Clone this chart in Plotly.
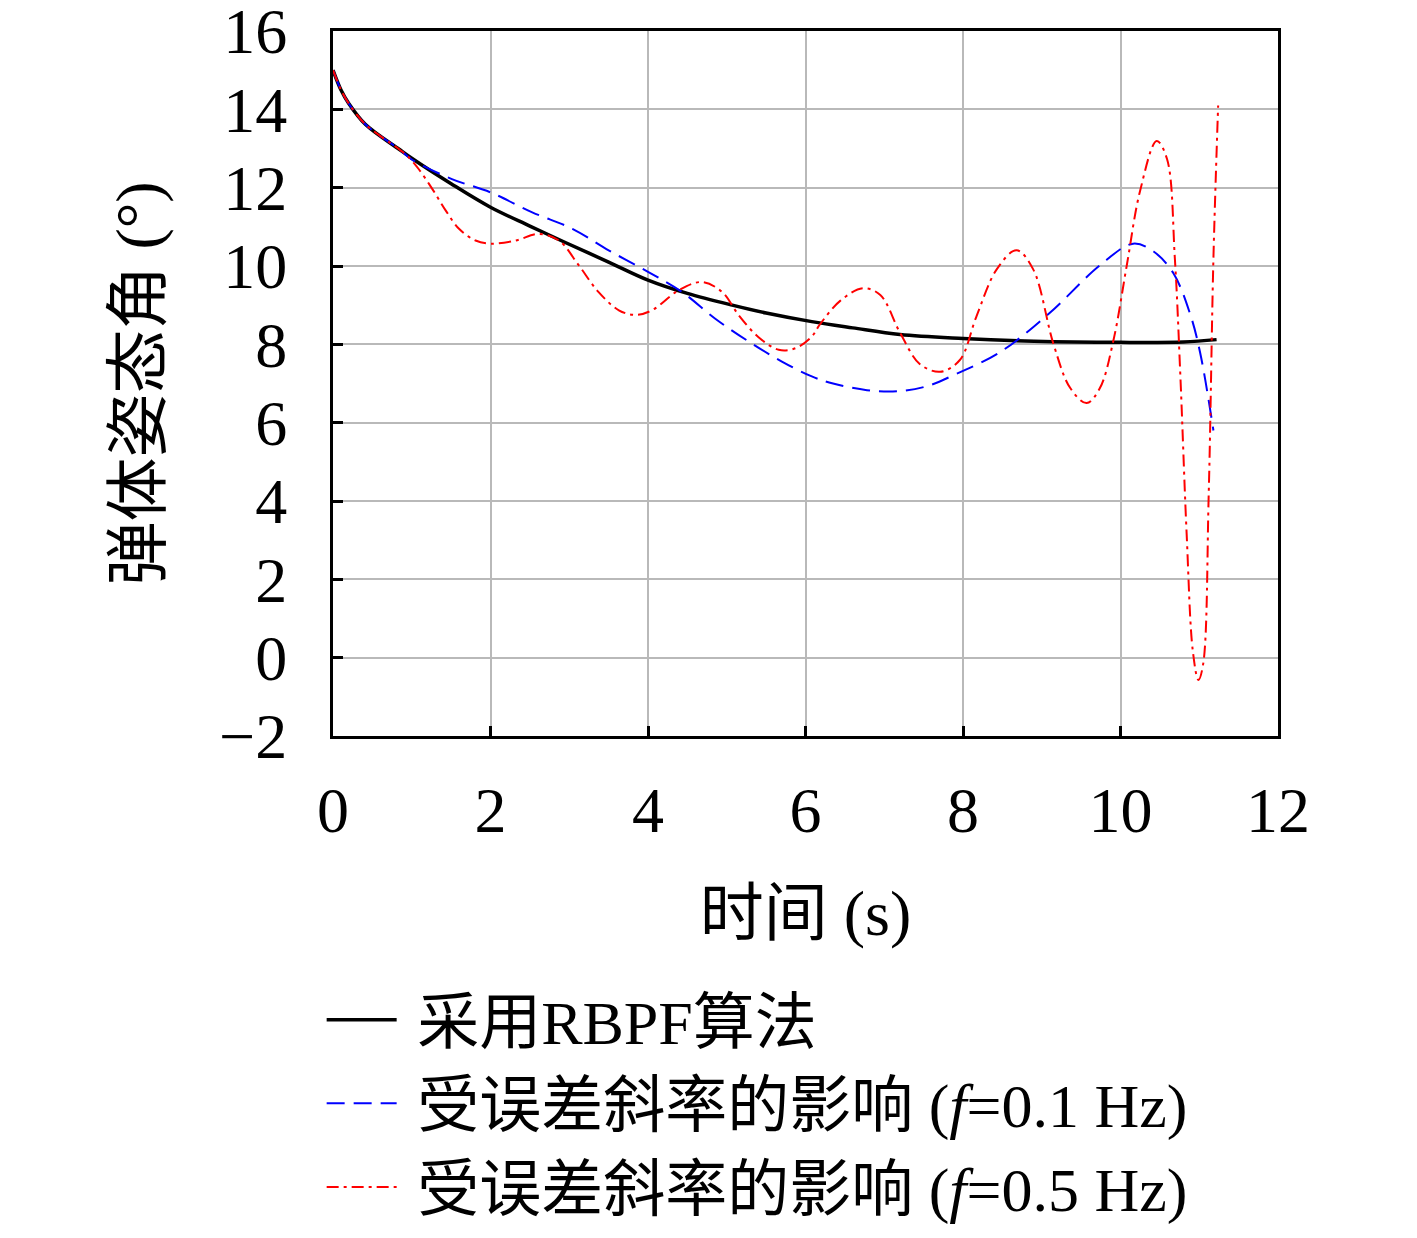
import plotly.graph_objects as go

# data
t_rbpf = [0, 0.1, 0.2, 0.41, 0.84, 1.0, 1.5, 2.0, 2.5, 2.95, 3.5, 4.0, 4.5, 5.07, 5.5, 6.08, 6.6, 7.2, 8.0, 8.9, 10.0, 10.8, 11.22]
y_rbpf = [15.0, 14.5, 14.15, 13.62, 12.98, 12.75, 12.1, 11.5, 11.02, 10.6, 10.1, 9.64, 9.3, 9.0, 8.8, 8.58, 8.42, 8.25, 8.15, 8.08, 8.05, 8.06, 8.12]

t_f01 = [0, 0.1, 0.2, 0.41, 0.84, 1.0, 1.51, 2.0, 2.53, 3.04, 3.5, 4.0, 4.43, 4.85, 5.28, 5.7, 6.08, 6.35, 6.78, 7.16,
         7.54, 7.92, 8.47, 9.1, 9.74, 10.16, 10.42, 10.67, 10.88, 11.01, 11.18]
y_f01 = [15.0, 14.5, 14.15, 13.62, 12.98, 12.72, 12.22, 11.88, 11.37, 10.95, 10.4, 9.85, 9.34, 8.66, 8.07, 7.56, 7.18, 7.0, 6.83, 6.8,
         6.93, 7.25, 7.8, 8.8, 10.02, 10.57, 10.37, 9.82, 8.8, 7.8, 5.8]

t_f05 = [0, 0.1, 0.2, 0.41, 0.84, 0.95, 1.09, 1.26, 1.43, 1.6, 1.81, 2.0, 2.32, 2.61, 2.87, 3.12, 3.37, 3.63, 3.84, 4.05,
         4.39, 4.68, 4.94, 5.15, 5.4, 5.66, 5.87, 6.08, 6.18, 6.44, 6.73, 6.95, 7.2, 7.45, 7.71, 7.96, 8.17,
         8.43, 8.68, 8.89, 9.15, 9.36, 9.57, 9.74, 9.91, 10.08, 10.25, 10.46, 10.59, 10.69, 10.76, 10.84,
         10.92, 10.99, 11.05, 11.12, 11.18, 11.24]
y_f05 = [15.0, 14.5, 14.15, 13.62, 12.98, 12.8, 12.47, 11.97, 11.42, 10.95, 10.65, 10.57, 10.65, 10.82, 10.65, 10.02, 9.34, 8.87, 8.75, 8.87,
         9.38, 9.59, 9.34, 8.75, 8.19, 7.86, 7.9, 8.2, 8.5, 9.11, 9.43, 9.26, 8.3, 7.5, 7.3, 7.6, 8.71,
         9.92, 10.4, 9.92, 8.0, 6.89, 6.5, 6.89, 8.1, 10.02, 11.93, 13.19, 12.74, 10.2, 7.2, 3.16,
         0.14, -0.57, -0.16, 4.17, 10.2, 14.1]

x_ticks = [0, 2, 4, 6, 8, 10, 12]
y_ticks = [-2, 0, 2, 4, 6, 8, 10, 12, 14, 16]

names = ['采用RBPF算法', '受误差斜率的影响 (<i>f</i>=0.1 Hz)', '受误差斜率的影响 (<i>f</i>=0.5 Hz)']
pad = '\u00a0'

font_family = 'Liberation Serif, Noto Sans CJK SC'

fig = go.Figure()
fig.add_trace(go.Scatter(x=t_rbpf, y=y_rbpf, mode='lines', name=pad + names[0], legendgroup='a',
                         line=dict(color='black', width=3.5, shape='spline')))
fig.add_trace(go.Scatter(x=t_f01, y=y_f01, mode='lines', name=pad + names[1], legendgroup='b',
                         line=dict(color='rgb(0,0,255)', width=2, dash='18px,9px', shape='spline')))
fig.add_trace(go.Scatter(x=t_f05, y=y_f05, mode='lines', name=pad + names[2], legendgroup='c',
                         line=dict(color='rgb(255,0,0)', width=2, dash='12px,5px,3px,5px', shape='spline')))

axis_common = dict(
    showline=True, linecolor='black', linewidth=3, mirror=True,
    ticks='inside', ticklen=10, tickwidth=3, tickcolor='black',
    showgrid=True, gridcolor='rgb(185,185,185)', gridwidth=2,
    zeroline=False, tickmode='array', ticklabeloverflow='allow', automargin=False,
    tickfont=dict(family=font_family, size=64, color='black'),
)

fig.update_layout(
    width=1417, height=1238,
    margin=dict(l=325, r=147, t=23, b=507),
    paper_bgcolor='white', plot_bgcolor='white',
    font=dict(family=font_family, color='black'),
    xaxis=dict(range=[0, 12], tickvals=x_ticks, ticklabelstandoff=16,
               title=dict(text='时间 (s)', font=dict(family=font_family, size=64), standoff=46),
               **axis_common),
    yaxis=dict(range=[-2, 16], tickvals=y_ticks, ticklabelstandoff=30,
               title=dict(text='弹体姿态角 (°)', font=dict(family=font_family, size=64), standoff=38),
               **axis_common),
    legend=dict(x=-0.012, y=-0.336, xanchor='left', yanchor='top',
                font=dict(family=font_family, size=62), itemwidth=70,
                tracegroupgap=0, bgcolor='rgba(0,0,0,0)'),
    showlegend=True,
)

fig.write_html('out.html')
